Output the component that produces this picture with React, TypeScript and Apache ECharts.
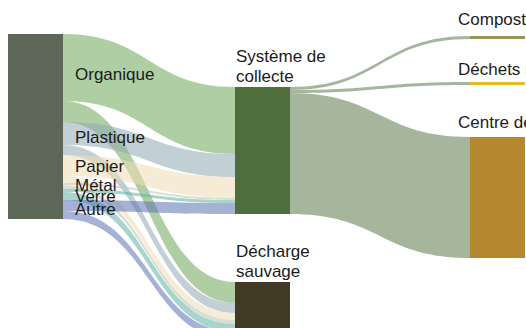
import React, { useEffect, useRef } from 'react';
import * as echarts from 'echarts';

// ---- data (arbitrary units) ----
const categories = ['Organique', 'Plastique', 'Papier', 'Métal', 'Verre', 'Autre'];
const toCollecte = [67, 23, 21, 2, 3, 11];
const toDecharge = [21, 10, 7, 4, 8, 8];
const collecteTargets = ['Compostage', 'Déchets résiduels', 'Centre de tri'];
const collecteOut = [3, 3, 121];

// ---- styles ----
const FONT = '"Liberation Sans", Arial, Helvetica, sans-serif';
const TEXT = '#1b1b1b';
const sourceColor = '#5c6757';
const categoryColors = ['#6fa55a', '#8fa9b3', '#efdcb5', '#b9c2b2', '#5fb3a6', '#5b72b3'];
const collecteColor = '#4e6e3c';
const dechargeColor = '#433a26';
const targetColors = ['#9a9550', '#e8b923', '#b5882f'];
const sourceLabelDy = [-4, -1, -3, -1, 2, 0];

// ---- layout box of the series (px) ----
const BOX = { left: 8, top: 34, width: 517, height: 185 };
const NODE_W = 55;
// node placement inside the box (px from box origin)
const placement: Record<string, { x?: number; y: number; lx: number; ly: number }> = {
  'Système de collecte': { x: 227, y: 53, lx: 1, ly: -1 },
  'Décharge sauvage': { x: 227, y: 248, lx: 1, ly: -1 },
  'Compostage': { y: 2, lx: -12, ly: -7 },
  'Déchets résiduels': { y: 48, lx: -12, ly: -3 },
  'Centre de tri': { y: 103, lx: -12, ly: -5 },
};
const labelText: Record<string, string> = {
  'Système de collecte': 'Système de\ncollecte',
  'Décharge sauvage': 'Décharge\nsauvage',
};

function placedNode(name: string, depth: number, color: string) {
  const p = placement[name];
  const n: any = {
    name,
    depth,
    localY: p.y / BOX.height,
    itemStyle: { color },
    label: {
      formatter: labelText[name] || name,
      position: [p.lx, p.ly],
      align: 'left',
      verticalAlign: 'bottom',
    },
  };
  if (p.x != null) n.localX = p.x / BOX.width;
  return n;
}

export default function App() {
  const ref = useRef<HTMLDivElement>(null);
  useEffect(() => {
    if (!ref.current) return;
    const chart = echarts.init(ref.current, undefined, { renderer: 'svg' });

    const nodes: any[] = [
      ...categories.map((c, i) => ({
        name: c,
        depth: 0,
        itemStyle: { color: sourceColor },
        label: { position: 'right', distance: 12, offset: [0, sourceLabelDy[i]] },
      })),
      placedNode('Système de collecte', 1, collecteColor),
      placedNode('Décharge sauvage', 1, dechargeColor),
      ...collecteTargets.map((t, i) => placedNode(t, 2, targetColors[i])),
    ];

    const links: any[] = [];
    categories.forEach((c, i) => {
      links.push({
        source: c,
        target: 'Système de collecte',
        value: toCollecte[i],
        lineStyle: { color: categoryColors[i], opacity: 0.55 },
      });
      links.push({
        source: c,
        target: 'Décharge sauvage',
        value: toDecharge[i],
        lineStyle: { color: categoryColors[i], opacity: 0.55 },
      });
    });
    collecteTargets.forEach((t, i) => {
      links.push({
        source: 'Système de collecte',
        target: t,
        value: collecteOut[i],
        lineStyle: { color: collecteColor, opacity: 0.5 },
      });
    });

    chart.setOption({
      animation: false,
      series: [
        {
          type: 'sankey',
          left: BOX.left,
          top: BOX.top,
          width: BOX.width,
          height: BOX.height,
          nodeWidth: NODE_W,
          nodeGap: 0,
          layoutIterations: 0,
          draggable: false,
          emphasis: { disabled: true },
          label: {
            color: TEXT,
            fontSize: 17,
            lineHeight: 20,
            fontFamily: FONT,
          },
          lineStyle: { curveness: 0.5 },
          data: nodes,
          links,
        },
      ],
    });
    return () => chart.dispose();
  }, []);
  return (
    <div
      ref={ref}
      style={{ position: 'fixed', left: 0, top: 0, width: 526, height: 328, background: '#fff' }}
    />
  );
}
